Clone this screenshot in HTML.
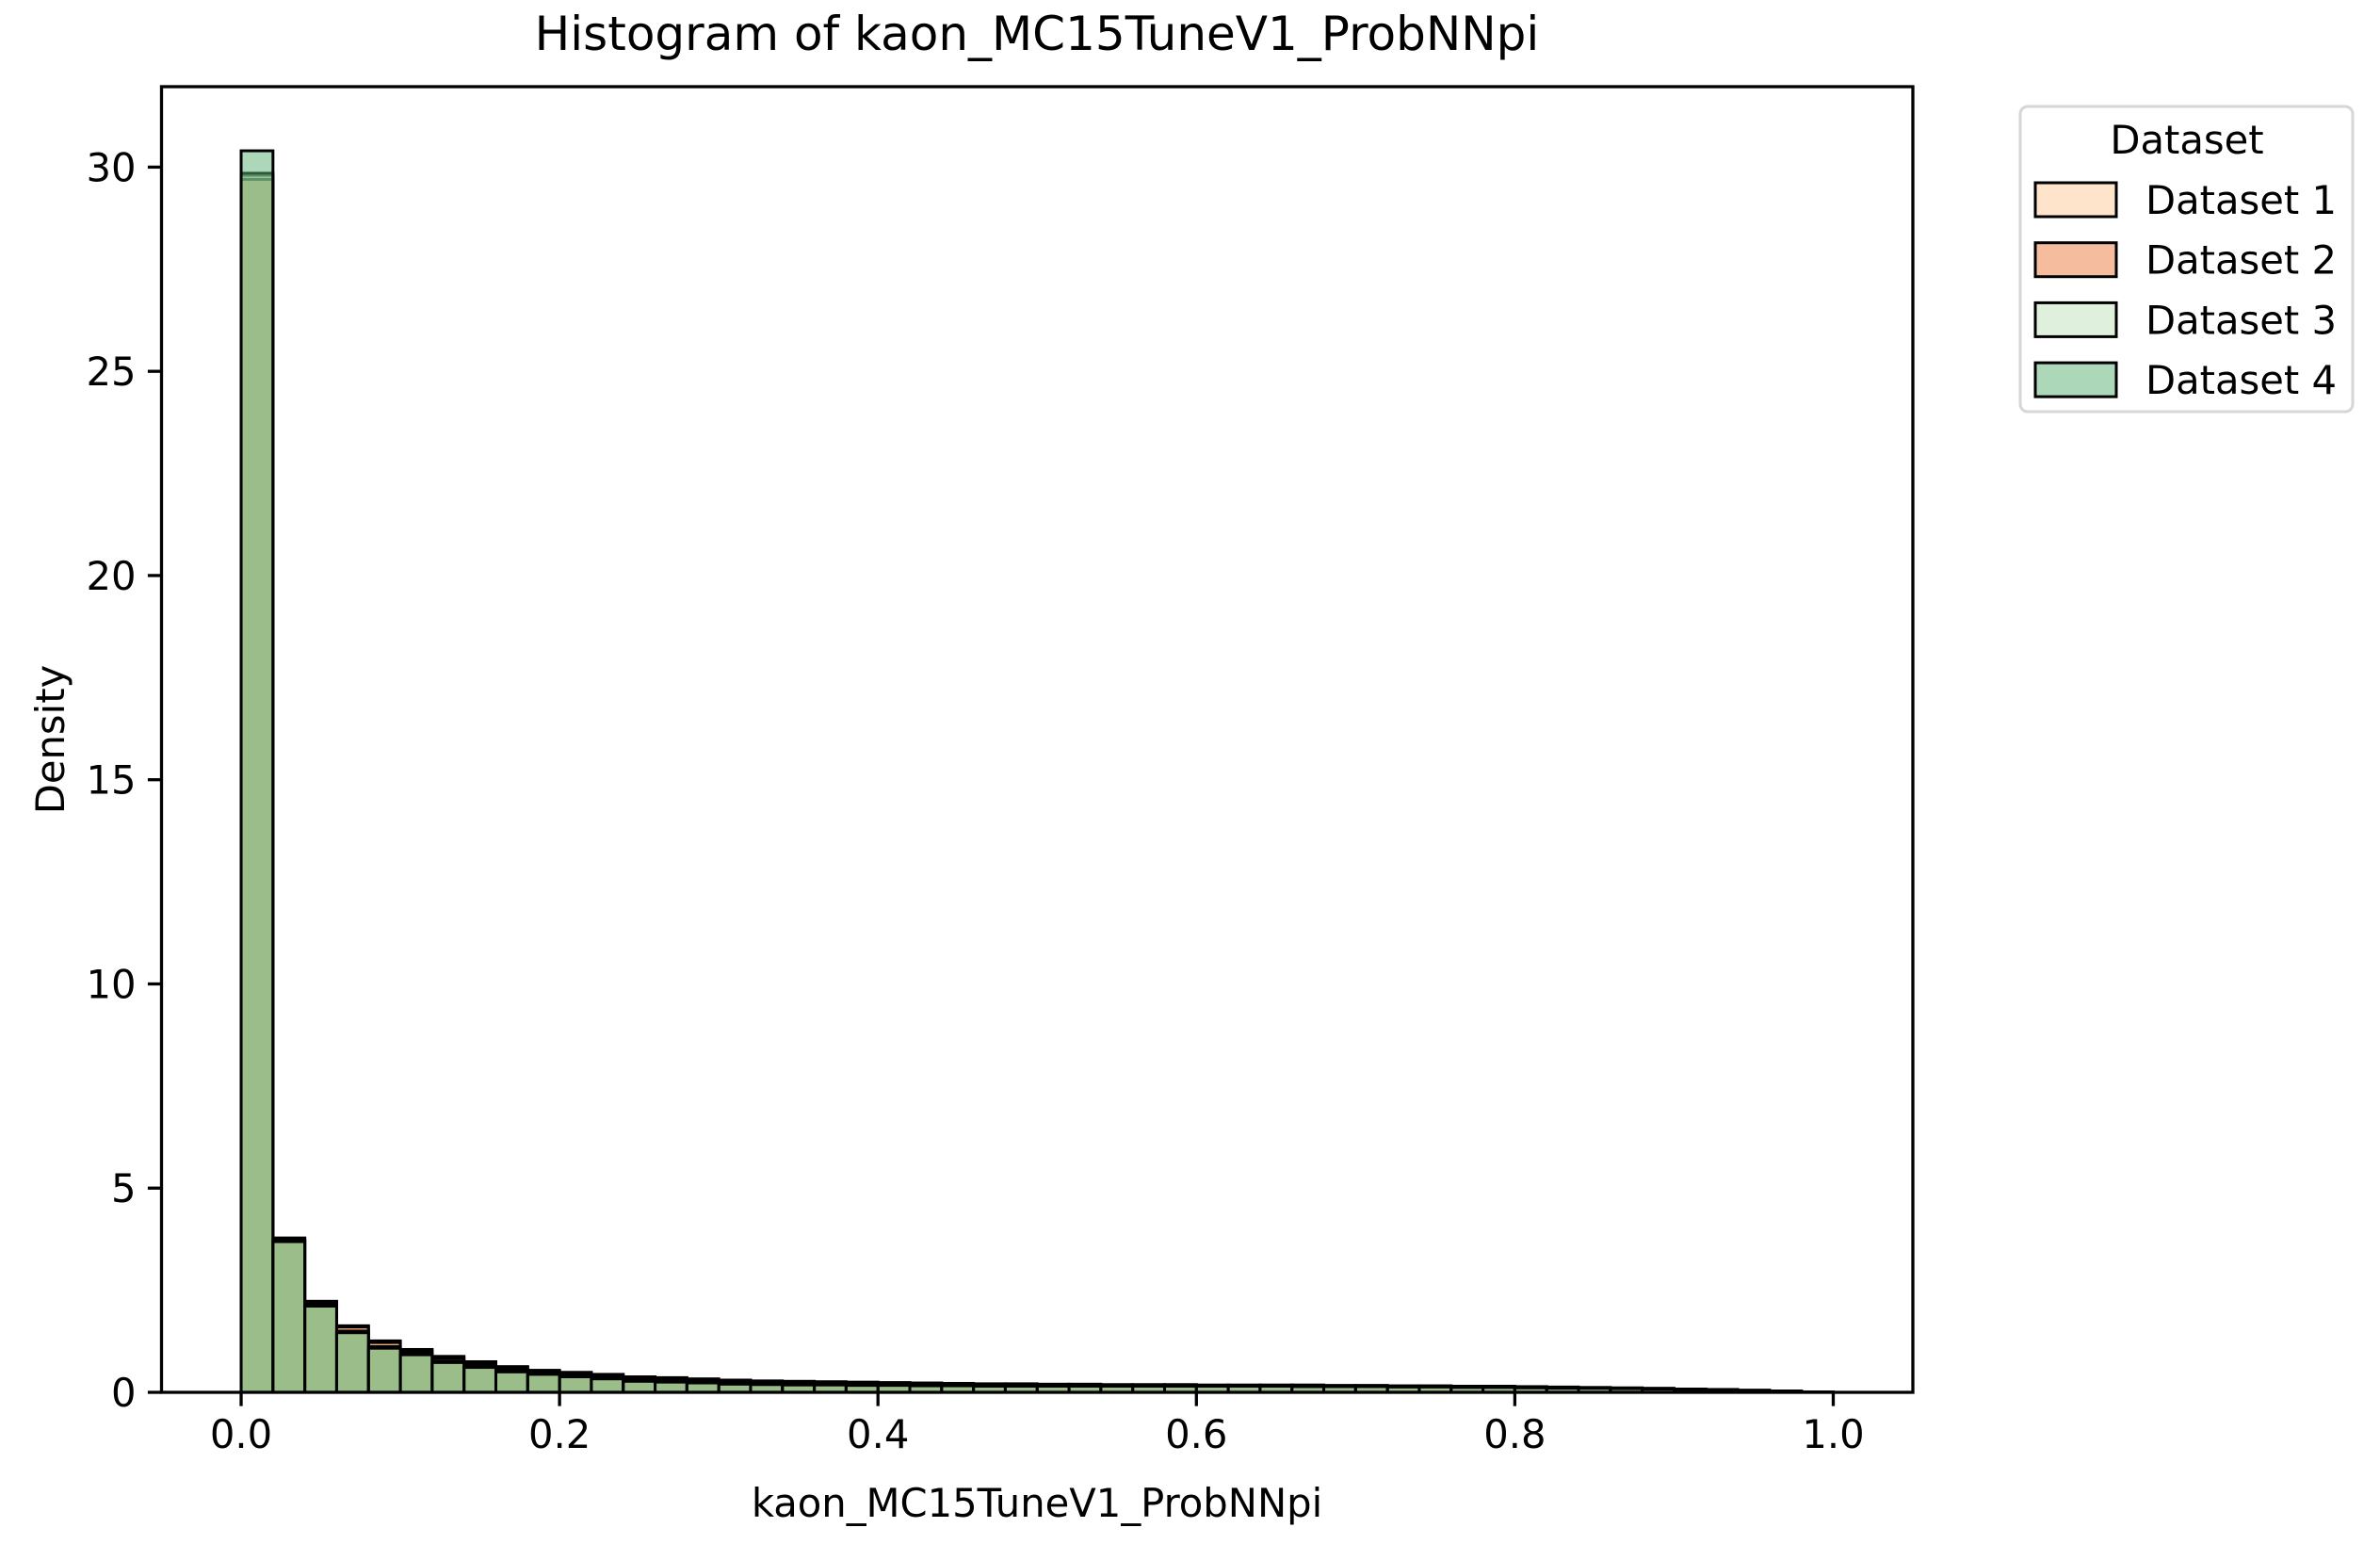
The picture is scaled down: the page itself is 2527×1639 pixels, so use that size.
<!DOCTYPE html>
<html><head><meta charset="utf-8"><style>
html,body{margin:0;padding:0;background:#fff;}
svg{display:block;font-family:"DejaVu Sans","Liberation Sans",sans-serif;}
</style></head><body>
<svg id="chart" width="2527" height="1639" viewBox="0 0 2527 1639" xmlns="http://www.w3.org/2000/svg">
<rect width="2527" height="1639" fill="#fff"/>
<text x="1101" y="53" font-size="50" text-anchor="middle">Histogram of kaon_MC15TuneV1_ProbNNpi</text>
<g id="bars"></g>
<g id="axes"></g>
<text x="1101" y="1610" font-size="41.7" text-anchor="middle">kaon_MC15TuneV1_ProbNNpi</text>
<text x="0" y="0" font-size="41.7" text-anchor="middle" transform="translate(68,785) rotate(-90)">Density</text>
<g>
<rect x="2145" y="113" width="353" height="324" rx="8" fill="#fff" fill-opacity="0.8" stroke="#d6d6d6" stroke-width="3"/>
<text x="2322" y="163" font-size="41.7" text-anchor="middle">Dataset</text>
<g id="legend-items"></g>
</g>
</svg>
<script>
const binEdgesStart = 0;
const binWidth = 0.02;
const seriesNames = ["Dataset 1","Dataset 2","Dataset 3","Dataset 4"];
const dataset1 = [29.8,3.78,2.23,1.63,1.26,1.05,0.88,0.75,0.63,0.54,0.49,0.44,0.38,0.36,0.33,0.30,0.28,0.27,0.26,0.25,0.24,0.23,0.22,0.21,0.21,0.20,0.20,0.19,0.19,0.19,0.18,0.18,0.18,0.18,0.17,0.17,0.16,0.16,0.15,0.15,0.14,0.13,0.12,0.11,0.10,0.08,0.07,0.05,0.03,0.01];
const dataset2 = [29.7,3.75,2.2,1.6,1.22,1.0,0.84,0.71,0.6,0.51,0.46,0.41,0.35,0.33,0.3,0.27,0.25,0.24,0.23,0.22,0.21,0.2,0.2,0.19,0.19,0.18,0.18,0.18,0.17,0.17,0.17,0.17,0.17,0.16,0.16,0.16,0.15,0.15,0.14,0.14,0.13,0.12,0.11,0.1,0.09,0.08,0.07,0.05,0.03,0.01];
const dataset3 = [29.85,3.72,2.15,1.5,1.12,0.95,0.77,0.65,0.54,0.47,0.41,0.36,0.3,0.28,0.26,0.23,0.21,0.2,0.2,0.19,0.18,0.18,0.17,0.17,0.16,0.16,0.16,0.16,0.16,0.16,0.16,0.16,0.16,0.15,0.15,0.15,0.14,0.14,0.13,0.13,0.12,0.11,0.1,0.1,0.09,0.07,0.06,0.05,0.03,0.01];
const dataset4 = [30.4,3.69,2.11,1.46,1.08,0.92,0.73,0.61,0.50,0.44,0.38,0.33,0.27,0.25,0.23,0.20,0.19,0.18,0.18,0.17,0.17,0.16,0.16,0.15,0.15,0.15,0.15,0.15,0.15,0.15,0.15,0.15,0.15,0.14,0.14,0.14,0.13,0.13,0.12,0.12,0.11,0.10,0.10,0.09,0.08,0.07,0.06,0.04,0.03,0.01];
const xTicks = [0,0.2,0.4,0.6,0.8,1.0];
const xTickLabels = ["0.0","0.2","0.4","0.6","0.8","1.0"];
const yTicks = [0,5,10,15,20,25,30];
const yTickLabels = ["0","5","10","15","20","25","30"];

const NS="http://www.w3.org/2000/svg";
const L=171.5,R=2031,T=92,B=1478;
const xMin=-0.05,xMax=1.05,yMin=0,yMax=31.97;
const xs=v=>L+(v-xMin)/(xMax-xMin)*(R-L);
const ys=v=>B-(v-yMin)/(yMax-yMin)*(B-T);
const colors=["#fbc997","#eb7b3b","#bfe1b9","#59b173"];
const legendColors=["#fde4cb","#f5bd9d","#dff0dc","#acd8b9"];
const allSeries=[dataset1,dataset2,dataset3,dataset4];
function mk(tag,attrs){const e=document.createElementNS(NS,tag);for(const k in attrs)e.setAttribute(k,attrs[k]);return e;}
const bars=document.getElementById('bars');
allSeries.forEach((s,si)=>{
  const g=mk('g',{});
  
  
  s.forEach((v,i)=>{
    const x0=xs(binEdgesStart+i*binWidth),x1=xs(binEdgesStart+(i+1)*binWidth);
    const r=mk('rect',{x:x0,y:ys(v),width:x1-x0,height:ys(0)-ys(v),fill:colors[si],'fill-opacity':0.5,stroke:'#000','stroke-width':3});
    
    
    g.appendChild(r);
  });
  bars.appendChild(g);
});
const axes=document.getElementById('axes');
const frame=mk('rect',{x:L,y:T,width:R-L,height:B-T,fill:'none',stroke:'#000','stroke-width':3.3});


axes.appendChild(frame);
xTicks.forEach((t,i)=>{
  const x=xs(t);
  const ln=mk('line',{x1:x,x2:x,y1:B,y2:B+14.6,stroke:'#000','stroke-width':3.3});
  
  
  axes.appendChild(ln);
  const tx=mk('text',{x:x,y:B+59,'font-size':41.7,'text-anchor':'middle'});
  
  
  tx.textContent=xTickLabels[i];
  axes.appendChild(tx);
});
yTicks.forEach((t,i)=>{
  const y=ys(t);
  const ln=mk('line',{x1:L-14.6,x2:L,y1:y,y2:y,stroke:'#000','stroke-width':3.3});
  
  
  axes.appendChild(ln);
  const tx=mk('text',{x:L-27,y:y+15,'font-size':41.7,'text-anchor':'end'});
  
  
  tx.textContent=yTickLabels[i];
  axes.appendChild(tx);
});
const li=document.getElementById('legend-items');
seriesNames.forEach((n,i)=>{
  const cy=212+i*63.7;
  const r=mk('rect',{x:2161,y:cy-18,width:86,height:36,fill:legendColors[i],stroke:'#000','stroke-width':3});
  
  
  li.appendChild(r);
  const t=mk('text',{x:2278,y:cy+15,'font-size':41.7});
  
  
  t.textContent=n;
  li.appendChild(t);
});
</script>
</body></html>
